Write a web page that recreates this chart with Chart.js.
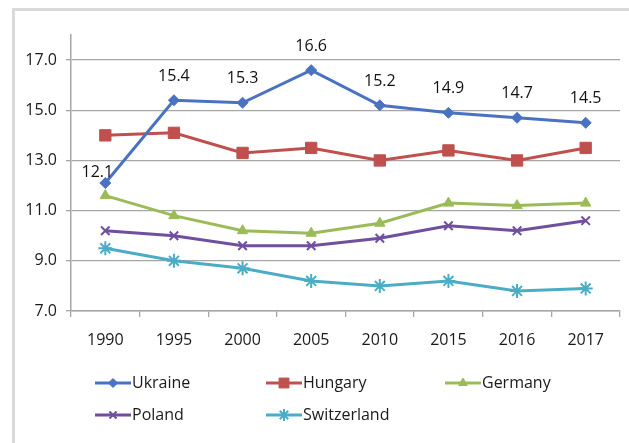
<!DOCTYPE html>
<html>
<head>
<meta charset="utf-8">
<script src="https://cdn.jsdelivr.net/npm/chart.js@4"></script>
<style>
  body { margin: 0; background: #fff; }
  #wrap { position: relative; width: 629px; height: 443px; overflow: hidden; }
  #frame { position: absolute; left: 12px; top: 8px; width: 640px; height: 460px; border: 3px solid #d9d9d9; box-sizing: border-box; }
  #chart { position: absolute; left: 0; top: 0; }
</style>
</head>
<body>
<div id="wrap">
  <div id="frame"></div>
  <canvas id="chart" width="629" height="443"></canvas>
</div>
<script>
// values
const years = ['1990', '1995', '2000', '2005', '2010', '2015', '2016', '2017'];
const ukraine = [12.1, 15.4, 15.3, 16.6, 15.2, 14.9, 14.7, 14.5];
const hungary = [14.0, 14.1, 13.3, 13.5, 13.0, 13.4, 13.0, 13.5];
const germany = [11.6, 10.8, 10.2, 10.1, 10.5, 11.3, 11.2, 11.3];
const poland = [10.2, 10.0, 9.6, 9.6, 9.9, 10.4, 10.2, 10.6];
const switzerland = [9.5, 9.0, 8.7, 8.2, 8.0, 8.2, 7.8, 7.9];
const yTicks = [7, 9, 11, 13, 15, 17];

const FONT = '"Open Sans", sans-serif';
Chart.defaults.font.family = FONT;
Chart.defaults.font.size = 16;
Chart.defaults.color = '#1a1a1a';

function series(label, data, color, style, radius, filled) {
    return {
        label: label,
        data: data,
        borderColor: color,
        backgroundColor: filled ? color : 'transparent',
        borderWidth: 3,
        pointStyle: style,
        pointRadius: radius,
        pointHoverRadius: radius,
        pointBorderColor: color,
        pointBackgroundColor: color,
        pointBorderWidth: filled ? 1 : 2,
        tension: 0
    };
}

// value labels above the Ukraine line
const valueLabels = {
    id: 'valueLabels',
    afterDatasetsDraw(chart) {
        const meta = chart.getDatasetMeta(0);
        const ctx = chart.ctx;
        ctx.save();
        ctx.font = '16px ' + FONT;
        ctx.fillStyle = '#111';
        ctx.textAlign = 'center';
        ctx.textBaseline = 'middle';
        meta.data.forEach((pt, i) => {
            const dx = i === 0 ? -8 : 0;
            const dy = i === 0 ? -11 : -24;
            ctx.fillText(ukraine[i].toFixed(1), pt.x + dx, pt.y + dy);
        });
        ctx.restore();
    }
};

// excel style legend: 3 columns, 2 rows
const gridLegend = {
    id: 'gridLegend',
    afterDraw(chart) {
        const ctx = chart.ctx;
        const cols = [95, 266, 445];
        const rows = [383, 415];
        ctx.save();
        ctx.font = '16px ' + FONT;
        ctx.textBaseline = 'middle';
        ctx.textAlign = 'left';
        chart.data.datasets.forEach((ds, i) => {
            const x = cols[i % 3];
            const y = rows[Math.floor(i / 3)];
            ctx.strokeStyle = ds.borderColor;
            ctx.lineWidth = 3;
            ctx.beginPath();
            ctx.moveTo(x, y);
            ctx.lineTo(x + 36, y);
            ctx.stroke();
            ctx.fillStyle = ds.pointBackgroundColor;
            ctx.lineWidth = ds.pointBorderWidth;
            Chart.helpers.drawPoint(ctx, {
                pointStyle: ds.pointStyle,
                radius: Math.max(ds.pointRadius - 1, 4),
                rotation: 0,
                borderWidth: ds.pointBorderWidth
            }, x + 18, y);
            ctx.fillStyle = '#1a1a1a';
            ctx.fillText(ds.label, x + 37, y);
        });
        ctx.restore();
    }
};

new Chart(document.getElementById('chart'), {
    type: 'line',
    data: {
        labels: years,
        datasets: [
            series('Ukraine', ukraine, '#4a72c2', 'rectRot', 5.5, true),
            series('Hungary', hungary, '#c0504d', 'rect', 8, true),
            series('Germany', germany, '#9bbb59', 'triangle', 6, true),
            series('Poland', poland, '#6f4f9e', 'crossRot', 6, false),
            series('Switzerland', switzerland, '#4bacc6', 'star', 7, false)
        ]
    },
    options: {
        responsive: false,
        animation: false,
        devicePixelRatio: 1,
        layout: { padding: { top: 35, right: 7, left: 0, bottom: 0 } },
        plugins: {
            legend: { display: false },
            tooltip: { enabled: false }
        },
        scales: {
            x: {
                offset: true,
                grid: { offset: true, drawOnChartArea: false, color: '#a6a6a6', tickLength: 6, lineWidth: 1.3 },
                border: { color: '#a6a6a6', width: 1.5 },
                ticks: { padding: 14, font: { size: 16 }, color: '#1a1a1a' },
                afterFit(scale) { scale.height = 132; }
            },
            y: {
                min: 7,
                max: 18,
                grid: { color: '#a6a6a6', lineWidth: 1.3, tickLength: 5 },
                border: { color: '#a6a6a6', width: 1.5 },
                ticks: {
                    padding: 9,
                    font: { size: 16 },
                    color: '#1a1a1a',
                    callback: v => v.toFixed(1)
                },
                afterBuildTicks(scale) { scale.ticks = yTicks.map(v => ({ value: v })); },
                afterFit(scale) { scale.width = 71; }
            }
        }
    },
    plugins: [valueLabels, gridLegend]
});
</script>
</body>
</html>
